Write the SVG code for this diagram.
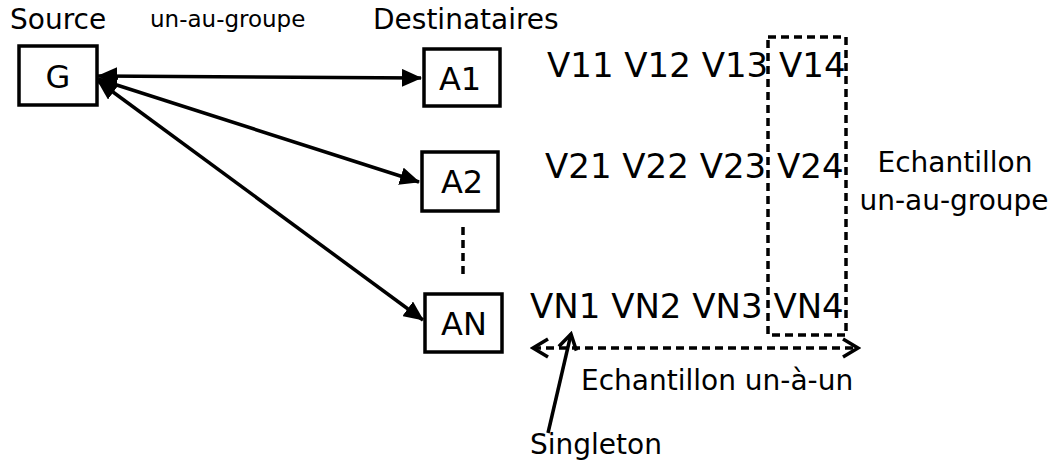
<svg xmlns="http://www.w3.org/2000/svg" width="1056" height="466" viewBox="0 0 1056 466">
<style>
text{font-family:"DejaVu Sans","Liberation Sans",sans-serif;fill:#000}
.box{fill:#fff;stroke:#000;stroke-width:3.5}
.lbl{font-size:28px}
.nd{font-size:32px;text-anchor:middle}
.row{font-size:34px}
.solid{stroke:#000;stroke-width:3.5;fill:none}
.dash{stroke:#000;stroke-width:3.5;fill:none;stroke-dasharray:8 5}
</style>
<defs>
<marker id="tri" viewBox="0 0 20 18" refX="19" refY="9" markerWidth="20" markerHeight="18" markerUnits="userSpaceOnUse" orient="auto-start-reverse">
<path d="M0,0 L20,9 L0,18 Z" fill="#000"/>
</marker>
<marker id="chev" viewBox="0 0 20 22" refX="17" refY="11" markerWidth="20" markerHeight="22" markerUnits="userSpaceOnUse" orient="auto-start-reverse">
<path d="M2,2 L17,11 L2,20" fill="none" stroke="#000" stroke-width="3.5"/>
</marker>
</defs>
<g id="labels">
<text class="lbl" x="10" y="29">Source</text>
<text x="150" y="27" font-size="23">un-au-groupe</text>
<text class="lbl" x="373" y="29">Destinataires</text>
</g>
<g id="connectors">
<line class="solid" x1="98" y1="76" x2="421" y2="78" marker-start="url(#tri)" marker-end="url(#tri)"/>
<line class="solid" x1="98" y1="79" x2="419" y2="182" marker-start="url(#tri)" marker-end="url(#tri)"/>
<line class="solid" x1="98" y1="81" x2="423" y2="320" marker-start="url(#tri)" marker-end="url(#tri)"/>
<line class="dash" x1="463" y1="227" x2="463" y2="277" stroke-dasharray="6 6"/>
<line class="dash" x1="533" y1="348" x2="858" y2="348" marker-start="url(#chev)" marker-end="url(#chev)"/>
<line class="solid" x1="548" y1="433" x2="571" y2="334" marker-end="url(#chev)"/>
</g>
<g id="G"><rect class="box" x="19" y="46" width="78" height="59"/><text class="nd" x="58" y="88">G</text></g>
<g id="A1"><rect class="box" x="424" y="49" width="76" height="57"/><text class="nd" x="460" y="90">A1</text></g>
<g id="A2"><rect class="box" x="422" y="152" width="76" height="59"/><text class="nd" x="462" y="193">A2</text></g>
<g id="AN"><rect class="box" x="425" y="294" width="77" height="58"/><text class="nd" x="464" y="335">AN</text></g>
<g id="values">
<text class="row" x="547" y="77">V11 V12 V13 V14</text>
<text class="row" x="545" y="178">V21 V22 V23 V24</text>
<text class="row" x="530" y="318">VN1 VN2 VN3 VN4</text>
</g>
<g id="echantillon-groupe">
<rect class="dash" x="768" y="37" width="78" height="298"/>
<text class="lbl" x="955" y="172" text-anchor="middle">Echantillon</text>
<text class="lbl" x="954" y="210" text-anchor="middle">un-au-groupe</text>
</g>
<g id="echantillon-un">
<text class="lbl" x="581" y="390">Echantillon un-à-un</text>
</g>
<g id="singleton">
<text class="lbl" x="530" y="454">Singleton</text>
</g>
</svg>
